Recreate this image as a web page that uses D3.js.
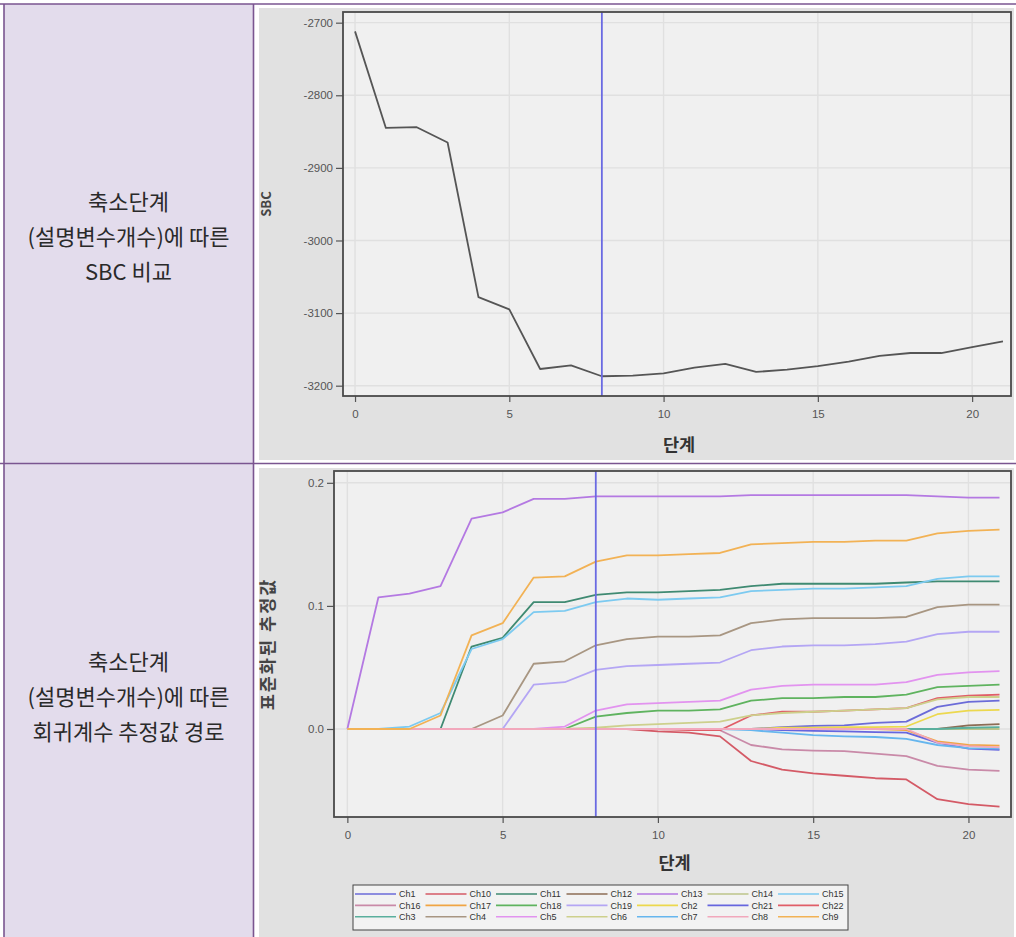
<!DOCTYPE html>
<html>
<head>
<meta charset="utf-8">
<script src="https://cdn.jsdelivr.net/npm/d3@7/dist/d3.min.js"></script>
<style>
  html, body { margin: 0; padding: 0; background: #ffffff; }
  svg { display: block; }
</style>
</head>
<body>
<svg id="page" width="1016" height="937"></svg>
<script>
// ---- data -------------------------------------------------------------
const steps = [0, 1, 2, 3, 4, 5, 6, 7, 8, 9, 10, 11, 12, 13, 14, 15, 16, 17, 18, 19, 20, 21];
const selectedStep = 8;

// SBC at each shrinkage step
const sbc = [-2712, -2845, -2844, -2865, -3078, -3095, -3177, -3172, -3187, -3186, -3183,
             -3175, -3170, -3181, -3178, -3173, -3167, -3159, -3155, -3155, -3147, -3139];

const sbcTicks = [-2700, -2800, -2900, -3000, -3100, -3200];
const stepTicks = [0, 5, 10, 15, 20];
const coefTicks = [0.2, 0.1, 0.0];

// standardized coefficient paths, one array per variable
const ch1  = [0,0,0,0,0,0,0,0,0,0,0,0,0,0, 0.0015,0.0025,0.003,0.005,0.006,0.018,0.022,0.023];
const ch10 = [0,0,0,0,0,0,0,0,0,0,-0.002,-0.003,-0.006,-0.026,-0.033,-0.036,-0.038,-0.040,-0.041,-0.057,-0.061,-0.063];
const ch11 = [0,0,0,0,0.067,0.074,0.103,0.103,0.109,0.111,0.111,0.112,0.113,0.116,0.118,0.118,0.118,0.118,0.119,0.120,0.120,0.120];
const ch12 = [0,0,0,0,0,0,0,0,0,0,0,0,0,0,0,0,0,0,0,0,0.003,0.004];
const ch13 = [0,0.107,0.110,0.116,0.171,0.176,0.187,0.187,0.189,0.189,0.189,0.189,0.189,0.190,0.190,0.190,0.190,0.190,0.190,0.189,0.188,0.188];
const ch14 = [0,0,0,0,0,0,0,0,0,0,0,0,0,0,0,0,0,0,0,0,0,0];
const ch15 = [0,0,0.002,0.013,0.065,0.073,0.095,0.096,0.103,0.106,0.105,0.106,0.107,0.112,0.113,0.114,0.114,0.115,0.116,0.122,0.124,0.124];
const ch16 = [0,0,0,0,0,0,0,0,0,0,0,0,-0.001,-0.013,-0.0165,-0.0175,-0.018,-0.020,-0.022,-0.030,-0.033,-0.034];
const ch17 = [0,0,0,0,0,0,0,0,0,0,0,0,0,0,0,0,0,0,-0.001,-0.010,-0.013,-0.0135];
const ch18 = [0,0,0,0,0,0,0,0,0.010,0.013,0.015,0.015,0.016,0.023,0.025,0.025,0.026,0.026,0.028,0.034,0.035,0.036];
const ch19 = [0,0,0,0,0,0,0.036,0.038,0.048,0.051,0.052,0.053,0.054,0.064,0.067,0.068,0.068,0.069,0.071,0.077,0.079,0.079];
const ch2  = [0,0,0,0,0,0,0,0,0,0,0,0,0,0,0.001,0.001,0.0015,0.0015,0.002,0.012,0.015,0.0155];
const ch21 = [0,0,0,0,0,0,0,0,0,0,0,0,0,0,-0.001,-0.0015,-0.002,-0.0025,-0.003,-0.011,-0.016,-0.017];
const ch22 = [0,0,0,0,0,0,0,0,0,0,0,-0.001,-0.001,0.011,0.014,0.014,0.015,0.016,0.017,0.025,0.027,0.028];
const ch3  = [0,0,0,0,0,0,0,0,0,0,0,0,0,0,0,0,0,0,0,0,0.001,0.0015];
const ch4  = [0,0,0,0,0,0.011,0.053,0.055,0.068,0.073,0.075,0.075,0.076,0.086,0.089,0.090,0.090,0.090,0.091,0.099,0.101,0.101];
const ch5  = [0,0,0,0,0,0,0,0.002,0.015,0.020,0.021,0.022,0.023,0.032,0.035,0.036,0.036,0.036,0.038,0.044,0.046,0.047];
const ch6  = [0,0,0,0,0,0,0,0,0.001,0.003,0.004,0.005,0.006,0.011,0.013,0.014,0.015,0.016,0.017,0.024,0.026,0.026];
const ch7  = [0,0,0,0,0,0,0,0,0,0,0,0,0,-0.001,-0.003,-0.005,-0.006,-0.0065,-0.008,-0.013,-0.0155,-0.016];
const ch8  = [0,0,0,0,0,0,0,0,0,0,0,0,0,0,0,0,0,0,0,-0.011,-0.014,-0.015];
const ch9  = [0,0,0,0.011,0.076,0.086,0.123,0.124,0.136,0.141,0.141,0.142,0.143,0.150,0.151,0.152,0.152,0.153,0.153,0.159,0.161,0.162];

const seriesNames = ["Ch1","Ch10","Ch11","Ch12","Ch13","Ch14","Ch15",
                     "Ch16","Ch17","Ch18","Ch19","Ch2","Ch21","Ch22",
                     "Ch3","Ch4","Ch5","Ch6","Ch7","Ch8","Ch9"];
const seriesValues = [ch1, ch10, ch11, ch12, ch13, ch14, ch15,
                      ch16, ch17, ch18, ch19, ch2, ch21, ch22,
                      ch3, ch4, ch5, ch6, ch7, ch8, ch9];
const seriesColors = ["#6b6bd8","#d45a66","#3f8a72","#8c6c54","#b479e2","#bcc48a","#7ccaf0",
                      "#c98aa8","#f0a544","#5fb35f","#b4a6f4","#ecd84e","#6666de","#e05e68",
                      "#5aaf9d","#a89682","#e293ef","#cdd08c","#66b6ee","#f2a8bc","#f2b255"];

const rowLabels = [
  ["축소단계", "(설명변수개수)에 따른", "SBC 비교"],
  ["축소단계", "(설명변수개수)에 따른", "회귀계수 추정값 경로"]
];

// ---- page layout ---------------------------------------------------------
const svg = d3.select("#page");
const border = "#7a5590";
const korean = "'Noto Sans CJK KR', 'Noto Sans', sans-serif";
const latin = "'Liberation Sans', Arial, sans-serif";

svg.append("rect").attr("width", 1016).attr("height", 937).attr("fill", "#ffffff");

// left header cells
const cellTops = [4, 464];
const cellBottoms = [464, 937];
const firstBaselines = [210, 670];
cellTops.forEach((cellTop, i) => {
  svg.append("rect")
    .attr("x", 4).attr("y", cellTop)
    .attr("width", 249).attr("height", cellBottoms[i] - cellTop)
    .attr("fill", "#e3dcec");
  const text = svg.append("text")
    .attr("text-anchor", "middle")
    .attr("font-family", korean)
    .attr("font-size", 22)
    .attr("fill", "#2a2a2a");
  rowLabels[i].forEach((line, j) => {
    text.append("tspan")
      .attr("x", 128.5)
      .attr("y", firstBaselines[i] + j * 35)
      .text(line);
  });
});

// table rules
const rules = [
  [0, 4, 1016, 4],
  [0, 463.5, 1016, 463.5],
  [4, 4, 4, 937],
  [253.5, 4, 253.5, 937]
];
svg.selectAll("line.rule").data(rules).join("line")
  .attr("class", "rule")
  .attr("x1", d => d[0]).attr("y1", d => d[1])
  .attr("x2", d => d[2]).attr("y2", d => d[3])
  .attr("stroke", border).attr("stroke-width", 1.6);

// ---- shared chart helpers ------------------------------------------------
function chartFrame(g, x, y, xTicks, yTicks, yFormat) {
  const [x0, x1] = x.range();
  const [y0, y1] = y.range();
  g.append("rect")
    .attr("x", x0).attr("y", y1)
    .attr("width", x1 - x0).attr("height", y0 - y1)
    .attr("fill", "#f0f0f0");
  g.selectAll("line.vgrid").data(xTicks).join("line")
    .attr("class", "vgrid")
    .attr("x1", d => x(d)).attr("x2", d => x(d))
    .attr("y1", y1).attr("y2", y0)
    .attr("stroke", "#e0e0e0").attr("stroke-width", 1.4);
  g.selectAll("line.hgrid").data(yTicks).join("line")
    .attr("class", "hgrid")
    .attr("x1", x0).attr("x2", x1)
    .attr("y1", d => y(d)).attr("y2", d => y(d))
    .attr("stroke", "#e0e0e0").attr("stroke-width", 1.4);

  const xAxis = g.append("g")
    .attr("transform", `translate(0,${y0})`)
    .call(d3.axisBottom(x).tickValues(xTicks).tickSize(6).tickPadding(8));
  const yAxis = g.append("g")
    .attr("transform", `translate(${x0},0)`)
    .call(d3.axisLeft(y).tickValues(yTicks).tickSize(7).tickPadding(3).tickFormat(yFormat));
  [xAxis, yAxis].forEach(a => {
    a.select(".domain").remove();
    a.selectAll(".tick line").attr("stroke", "#555").attr("stroke-width", 1.2);
    a.selectAll(".tick text")
      .attr("font-family", latin).attr("font-size", 11.5).attr("fill", "#555");
  });
}

function chartBorder(g, x, y) {
  const [x0, x1] = x.range();
  const [y0, y1] = y.range();
  g.append("rect")
    .attr("x", x0).attr("y", y1)
    .attr("width", x1 - x0).attr("height", y0 - y1)
    .attr("fill", "none").attr("stroke", "#4a4a4a").attr("stroke-width", 1.8);
}

function axisTitles(g, x, y, xTitle, yTitle, yTitleX, xTitleY, yTitleSize, yTitleSpacing) {
  const [x0, x1] = x.range();
  const [y0, y1] = y.range();
  g.append("text")
    .attr("x", (x0 + x1) / 2 + 2).attr("y", xTitleY)
    .attr("text-anchor", "middle")
    .attr("font-family", korean).attr("font-size", 17.5).attr("font-weight", 700)
    .attr("fill", "#333").text(xTitle);
  g.append("text")
    .attr("transform", `translate(${yTitleX},${(y0 + y1) / 2}) rotate(-90)`)
    .attr("text-anchor", "middle")
    .attr("font-family", korean).attr("font-size", yTitleSize).attr("font-weight", 700)
    .attr("letter-spacing", yTitleSpacing)
    .attr("fill", "#444").text(yTitle);
}

// ---- SBC chart ---------------------------------------------------------------
const sbcChart = svg.append("g");
sbcChart.append("rect").attr("x", 259).attr("y", 8).attr("width", 755).attr("height", 452).attr("fill", "#e1e1e1");

const xSbc = d3.scaleLinear().domain([-0.39, 21.26]).range([343, 1011]);
const ySbc = d3.scaleLinear().domain([-3214.2, -2685.3]).range([396, 12]);

chartFrame(sbcChart, xSbc, ySbc, stepTicks, sbcTicks, d => String(d));

sbcChart.append("path")
  .datum(steps.map((s, i) => [s, sbc[i]]))
  .attr("fill", "none").attr("stroke", "#555").attr("stroke-width", 1.8)
  .attr("stroke-linejoin", "round")
  .attr("d", d3.line().x(d => xSbc(d[0])).y(d => ySbc(d[1])));

sbcChart.append("line")
  .attr("x1", xSbc(selectedStep)).attr("x2", xSbc(selectedStep))
  .attr("y1", ySbc.range()[1]).attr("y2", ySbc.range()[0])
  .attr("stroke", "#6a6ae2").attr("stroke-width", 1.8);

chartBorder(sbcChart, xSbc, ySbc);
axisTitles(sbcChart, xSbc, ySbc, "단계", "SBC", 271, 451, 13, 0);

// ---- coefficient path chart ----------------------------------------------
const coefChart = svg.append("g");
coefChart.append("rect").attr("x", 259).attr("y", 468).attr("width", 755).attr("height", 469).attr("fill", "#e1e1e1");

const xCoef = d3.scaleLinear().domain([-0.43, 21.37]).range([334, 1011]);
const yCoef = d3.scaleLinear().domain([-0.0715, 0.2096]).range([817, 471]);

chartFrame(coefChart, xCoef, yCoef, stepTicks, coefTicks, d3.format(".1f"));

const coefLine = d3.line().x((d, i) => xCoef(steps[i])).y(d => yCoef(d));
coefChart.selectAll("path.coef").data(seriesValues).join("path")
  .attr("class", "coef")
  .attr("fill", "none")
  .attr("stroke", (d, i) => seriesColors[i])
  .attr("stroke-width", 1.8)
  .attr("stroke-linejoin", "round")
  .attr("d", coefLine);

coefChart.append("line")
  .attr("x1", xCoef(selectedStep)).attr("x2", xCoef(selectedStep))
  .attr("y1", yCoef.range()[1]).attr("y2", yCoef.range()[0])
  .attr("stroke", "#6a6ae2").attr("stroke-width", 1.8);

chartBorder(coefChart, xCoef, yCoef);
axisTitles(coefChart, xCoef, yCoef, "단계", "표준화된 추정값", 274, 869, 17.5, 2);

// legend
const legend = coefChart.append("g");
legend.append("rect")
  .attr("x", 353).attr("y", 885).attr("width", 495).attr("height", 45)
  .attr("fill", "#f2f2f2").attr("stroke", "#444").attr("stroke-width", 1);
const items = legend.selectAll("g.item").data(seriesNames).join("g")
  .attr("class", "item")
  .attr("transform", (d, i) => `translate(${355 + (i % 7) * 70.5},${894 + Math.floor(i / 7) * 11.4})`);
items.append("line")
  .attr("x1", 0).attr("x2", 41).attr("y1", 0).attr("y2", 0)
  .attr("stroke", (d, i) => seriesColors[i]).attr("stroke-width", 1.6);
items.append("text")
  .attr("x", 44).attr("y", 3.2)
  .attr("font-family", latin).attr("font-size", 9).attr("fill", "#333")
  .text(d => d);
</script>
</body>
</html>
